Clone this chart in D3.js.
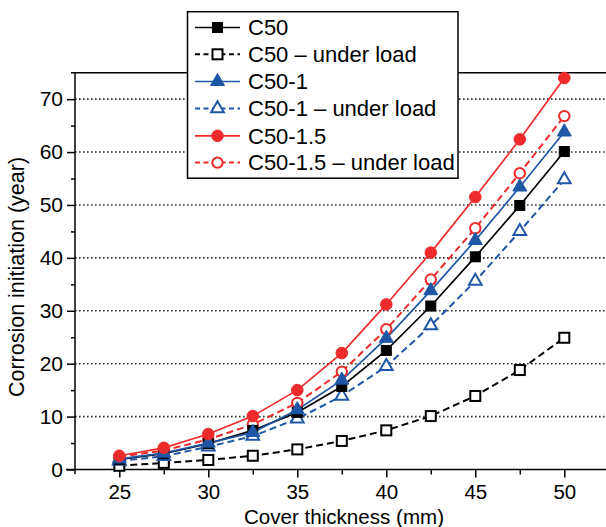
<!DOCTYPE html>
<html>
<head>
<meta charset="utf-8">
<script src="https://cdn.jsdelivr.net/npm/d3@7"></script>
<style>
  html, body { margin: 0; padding: 0; background: #fff; }
  svg { display: block; font-family: "Liberation Sans", Arial, sans-serif; }
</style>
</head>
<body>
<svg id="chart" width="606" height="527"></svg>
<script>
// ---- data ----
const cover = [25, 27.5, 30, 32.5, 35, 37.5, 40, 42.5, 45, 47.5, 50];
const c50            = [1.9, 3.0, 4.9, 7.4, 10.8, 15.7, 22.5, 30.9, 40.2, 49.9, 60.1];
const c50Load        = [0.7, 1.25, 1.8, 2.6, 3.8, 5.4, 7.4, 10.1, 13.9, 18.8, 24.9];
const c50_1          = [2.0, 3.1, 5.0, 7.0, 11.3, 16.9, 24.8, 33.8, 43.3, 53.4, 63.8];
const c50_1Load      = [1.6, 2.5, 4.3, 6.3, 9.6, 13.9, 19.5, 27.2, 35.6, 45.0, 54.8];
const c50_15         = [2.6, 4.1, 6.7, 10.1, 15.0, 22.0, 31.2, 41.0, 51.5, 62.4, 74.0];
const c50_15Load     = [2.4, 3.6, 5.7, 8.5, 12.6, 18.5, 26.5, 35.9, 45.6, 56.0, 66.8];
const seriesNames = ["C50", "C50 \u2013 under load", "C50-1", "C50-1 \u2013 under load", "C50-1.5", "C50-1.5 \u2013 under load"];
const xTicks = [25, 30, 35, 40, 45, 50];
const xMinorTicks = [27.5, 32.5, 37.5, 42.5, 47.5];
const yTicks = [0, 10, 20, 30, 40, 50, 60, 70];
const yMinorTicks = [5, 15, 25, 35, 45, 55, 65];
const xTitle = "Cover thickness (mm)";
const yTitle = "Corrosion initiation (year)";

const RED = "#ee2b2b", BLUE = "#1f57a6", BLACK = "#000";
const series = [
  { name: seriesNames[0], values: c50,        color: BLACK, dash: null,  marker: "square",   filled: true },
  { name: seriesNames[1], values: c50Load,    color: BLACK, dash: "7,4", marker: "square",   filled: false },
  { name: seriesNames[2], values: c50_1,      color: BLUE,  dash: null,  marker: "triangle", filled: true },
  { name: seriesNames[3], values: c50_1Load,  color: BLUE,  dash: "7,4", marker: "triangle", filled: false },
  { name: seriesNames[4], values: c50_15,     color: RED,   dash: null,  marker: "circle",   filled: true },
  { name: seriesNames[5], values: c50_15Load, color: RED,   dash: "7,4", marker: "circle",   filled: false }
];

// ---- layout ----
const svg = d3.select("#chart");
const x = d3.scaleLinear().domain([25, 50]).range([119.3, 564.3]);
const y = d3.scaleLinear().domain([0, 75]).range([469.5, 72.7]);
const axisLeftX = 75, axisRightX = 606, axisBottomY = 469.5, axisTopY = 72.7;
const TICKFONT = 20.5, TITLEFONT = 20.6, LEGFONT = 22;

// gridlines
svg.append("g").selectAll("line").data(yTicks.filter(d => d > 0)).join("line")
  .attr("x1", axisLeftX).attr("x2", axisRightX)
  .attr("y1", d => y(d)).attr("y2", d => y(d))
  .attr("stroke", "#333").attr("stroke-width", 1.6).attr("stroke-dasharray", "1.6,2.4");

// top frame line
svg.append("line").attr("x1", 71).attr("x2", axisRightX)
  .attr("y1", axisTopY).attr("y2", axisTopY).attr("stroke", "#000").attr("stroke-width", 1.5);

// x axis
const gx = svg.append("g").attr("transform", `translate(0,${axisBottomY})`)
  .call(d3.axisBottom(x).tickValues(xTicks).tickSize(8).tickFormat(d3.format("d")));
gx.select(".domain").remove();
gx.append("line").attr("x1", 66).attr("x2", axisRightX).attr("stroke", "#000").attr("stroke-width", 1.5);
gx.selectAll(".tick line").attr("stroke-width", 1.5);
gx.selectAll(".tick text").attr("font-size", TICKFONT).attr("font-family", "Liberation Sans, Arial, sans-serif").attr("fill", "#000").attr("y", 10).attr("dy", "0.97em");
svg.append("g").attr("transform", `translate(0,${axisBottomY})`)
  .call(d3.axisBottom(x).tickValues(xMinorTicks).tickSize(5).tickFormat(""))
  .call(g => g.select(".domain").remove())
  .selectAll(".tick line").attr("stroke-width", 1.5);

// y axis
const gy = svg.append("g").attr("transform", `translate(${axisLeftX},0)`)
  .call(d3.axisLeft(y).tickValues(yTicks).tickSize(8).tickFormat(d3.format("d")));
gy.select(".domain").remove();
gy.append("line").attr("y1", axisTopY).attr("y2", 474).attr("stroke", "#000").attr("stroke-width", 1.5);
gy.selectAll(".tick line").attr("stroke-width", 1.5);
gy.selectAll(".tick text").attr("font-size", 21).attr("font-family", "Liberation Sans, Arial, sans-serif").attr("fill", "#000").attr("x", -12);
svg.append("g").attr("transform", `translate(${axisLeftX},0)`)
  .call(d3.axisLeft(y).tickValues(yMinorTicks).tickSize(4).tickFormat(""))
  .call(g => g.select(".domain").remove())
  .selectAll(".tick line").attr("stroke-width", 1.5);

// axis titles
svg.append("text").attr("x", 344).attr("y", 524).attr("text-anchor", "middle")
  .attr("font-size", TITLEFONT).attr("fill", "#000").text(xTitle);
svg.append("text").attr("transform", "translate(24,277) rotate(-90)").attr("text-anchor", "middle")
  .attr("font-size", 21.5).attr("fill", "#000").text(yTitle);

// markers
function drawMarker(g, s, cx, cy) {
  const fill = s.filled ? s.color : "#fff";
  if (s.marker === "square") {
    g.append("rect").attr("x", cx - 5).attr("y", cy - 5).attr("width", 10).attr("height", 10)
      .attr("fill", fill).attr("stroke", s.color).attr("stroke-width", s.filled ? 1 : 2);
  } else if (s.marker === "circle") {
    g.append("circle").attr("cx", cx).attr("cy", cy).attr("r", s.filled ? 5.8 : 5.2)
      .attr("fill", fill).attr("stroke", s.color).attr("stroke-width", s.filled ? 1 : 2);
  } else {
    g.append("path").attr("d", d3.symbol(d3.symbolTriangle, s.filled ? 85 : 70)())
      .attr("transform", `translate(${cx},${cy})`)
      .attr("fill", fill).attr("stroke", s.color).attr("stroke-width", s.filled ? 1 : 2);
  }
}

const line = d3.line().x((d, i) => x(cover[i])).y(d => y(d));
const order = [1, 3, 5, 0, 2, 4];
const plot = svg.append("g");
order.forEach(k => {
  const s = series[k];
  plot.append("path").attr("d", line(s.values)).attr("fill", "none")
    .attr("stroke", s.color).attr("stroke-width", s.dash ? 2 : 1.7)
    .attr("stroke-dasharray", s.dash);
});
order.forEach(k => {
  const s = series[k];
  const g = plot.append("g");
  s.values.forEach((v, i) => drawMarker(g, s, x(cover[i]), y(v)));
});

// legend
const lg = svg.append("g");
lg.append("rect").attr("x", 187.5).attr("y", 11.7).attr("width", 270.5).attr("height", 166.5)
  .attr("fill", "#fff").attr("stroke", "#000").attr("stroke-width", 1.5);
const rowY = [27.5, 54.3, 81.5, 108.5, 135.8, 162.6];
series.forEach((s, i) => {
  const ry = rowY[i];
  lg.append("line").attr("x1", 195).attr("x2", 240).attr("y1", ry).attr("y2", ry)
    .attr("stroke", s.color).attr("stroke-width", s.dash ? 2 : 1.7)
    .attr("stroke-dasharray", s.dash ? "5,3.5" : null);
  drawMarker(lg, s, 217.5, ry);
  lg.append("text").attr("x", 248).attr("y", ry + 7.8).attr("font-size", LEGFONT)
    .attr("fill", "#000").text(s.name);
});
</script>
</body>
</html>
